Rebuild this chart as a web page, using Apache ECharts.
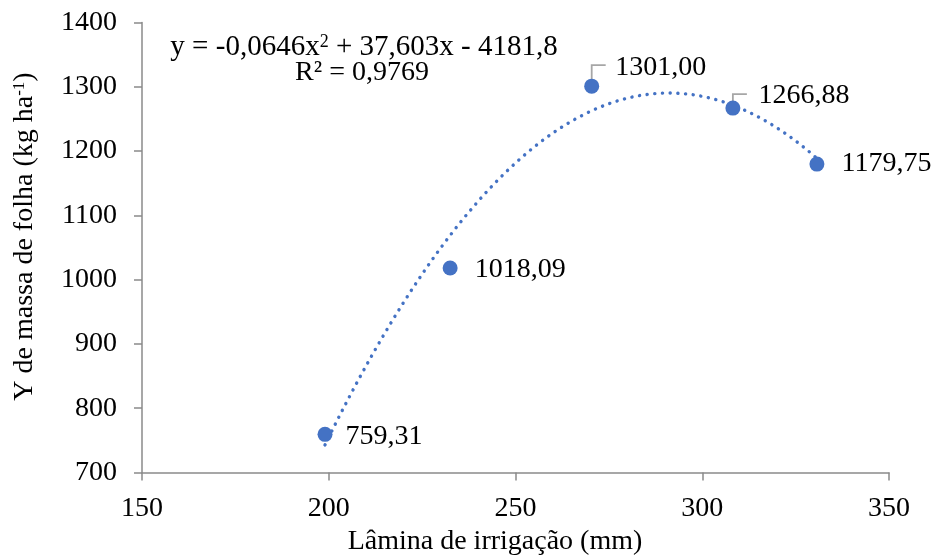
<!DOCTYPE html>
<html>
<head>
<meta charset="utf-8">
<script src="https://cdn.jsdelivr.net/npm/echarts@6/dist/echarts.min.js"></script>
<style>
  html, body { margin: 0; padding: 0; background: #fff; }
  #chart { width: 935px; height: 555px; }
</style>
</head>
<body>
<div id="chart"></div>
<script>
// Irrigation depth (mm) and leaf mass yield (kg/ha)
const laminas = [199.0, 232.5, 270.4, 308.2, 330.7];
const massaFolha = [759.31, 1018.09, 1301.00, 1266.88, 1179.75];

// Quadratic trendline coefficients, as printed on the chart
const coefA = -0.0646;
const coefB = 37.603;
const coefC = -4181.8;
const r2Text = '0,9769';

// Axis ticks
const xTicks = [150, 200, 250, 300, 350];
const yTicks = [700, 800, 900, 1000, 1100, 1200, 1300, 1400];

// Label placement per point: [dx, dy] shifts, and which ones get a leader line
const labelShift = [[-3, 2], [1, 2], [0, -19], [2, -12], [1, 0]];
const leaderFlags = [false, false, true, true, false];
const leaderRise = [0, 0, 21, 14, 0];

const FONT = "'Liberation Serif', 'Times New Roman', serif";
const FS = 28;
const BLUE = '#4472C4';
const AXIS = '#8a8a8a';

const fmt = v => v.toFixed(2).replace('.', ',');

// Trendline sampled along the fitted equation across the observed range
const trend = [];
const xStart = laminas[0], xEnd = laminas[laminas.length - 1];
for (let x = xStart; x < xEnd; x += 1) {
  trend.push([x, coefA * x * x + coefB * x + coefC]);
}
trend.push([xEnd, coefA * xEnd * xEnd + coefB * xEnd + coefC]);

const points = laminas.map((x, i) => ({
  value: [x, massaFolha[i]],
  label: { offset: labelShift[i] }
}));

const leaders = laminas
  .map((x, i) => ({ value: [x, massaFolha[i], leaderRise[i]], show: leaderFlags[i] }))
  .filter(d => d.show)
  .map(d => d.value);

const supStyle = { fontFamily: FONT, fontSize: 17, color: '#000', verticalAlign: 'top', lineHeight: 18 };

const chart = echarts.init(document.getElementById('chart'));
chart.setOption({
  animation: false,
  backgroundColor: '#ffffff',
  grid: { left: 142, right: 46, top: 22.5, bottom: 82.5, containLabel: false, outerBoundsMode: 'none' },
  xAxis: {
    type: 'value',
    min: xTicks[0],
    max: xTicks[xTicks.length - 1],
    interval: xTicks[1] - xTicks[0],
    name: 'Lâmina de irrigação (mm)',
    nameLocation: 'middle',
    nameGap: 43,
    nameTextStyle: { fontFamily: FONT, fontSize: FS, color: '#000', padding: [0, 41, 0, 0] },
    axisLine: { lineStyle: { color: AXIS, width: 1.5 } },
    axisTick: { show: true, length: 8, lineStyle: { color: AXIS, width: 1.5 } },
    axisLabel: { fontFamily: FONT, fontSize: FS, color: '#000', margin: 22 },
    splitLine: { show: false }
  },
  yAxis: {
    type: 'value',
    min: yTicks[0],
    max: yTicks[yTicks.length - 1],
    interval: yTicks[1] - yTicks[0],
    name: 'Y de massa de folha (kg ha{sup|-1})',
    nameLocation: 'middle',
    nameGap: 103,
    nameTextStyle: {
      fontFamily: FONT, fontSize: FS, color: '#000', padding: [0, 0, 0, 22],
      rich: { sup: supStyle }
    },
    axisLine: { show: true, lineStyle: { color: AXIS, width: 1.5 } },
    axisTick: { show: true, length: 8, lineStyle: { color: AXIS, width: 1.5 } },
    axisLabel: { fontFamily: FONT, fontSize: FS, color: '#000', margin: 25, formatter: v => String(v) },
    splitLine: { show: false }
  },
  series: [
    {
      type: 'line',
      data: trend,
      showSymbol: false,
      smooth: false,
      silent: true,
      z: 1,
      lineStyle: { color: BLUE, width: 3.4, type: [0.1, 7.6], cap: 'round' }
    },
    {
      type: 'custom',
      data: leaders,
      z: 2,
      silent: true,
      renderItem: (params, api) => {
        const p = api.coord([api.value(0), api.value(1)]);
        const rise = api.value(2);
        return {
          type: 'polyline',
          shape: { points: [[p[0], p[1] - 4], [p[0], p[1] - rise], [p[0] + 14, p[1] - rise]] },
          style: { stroke: '#a6a6a6', lineWidth: 1.8, fill: null }
        };
      }
    },
    {
      type: 'scatter',
      data: points,
      symbol: 'circle',
      symbolSize: 15,
      z: 3,
      itemStyle: { color: BLUE, opacity: 1 },
      label: {
        show: true,
        position: 'right',
        distance: 16,
        fontFamily: FONT,
        fontSize: FS,
        color: '#000',
        formatter: p => fmt(p.value[1])
      }
    }
  ],
  graphic: [
    {
      type: 'text',
      x: 364,
      y: 33,
      style: {
        text: 'y = -0,0646x{sup|2} + 37,603x - 4181,8',
        align: 'center',
        verticalAlign: 'top',
        fontFamily: FONT,
        fontSize: 29,
        fill: '#000',
        rich: { sup: { fontFamily: FONT, fontSize: 18, fill: '#000', verticalAlign: 'top', lineHeight: 18 } }
      }
    },
    {
      type: 'text',
      x: 362,
      y: 59,
      style: {
        text: 'R² = ' + r2Text,
        align: 'center',
        verticalAlign: 'top',
        fontFamily: FONT,
        fontSize: FS,
        fill: '#000'
      }
    }
  ]
});
</script>
</body>
</html>
